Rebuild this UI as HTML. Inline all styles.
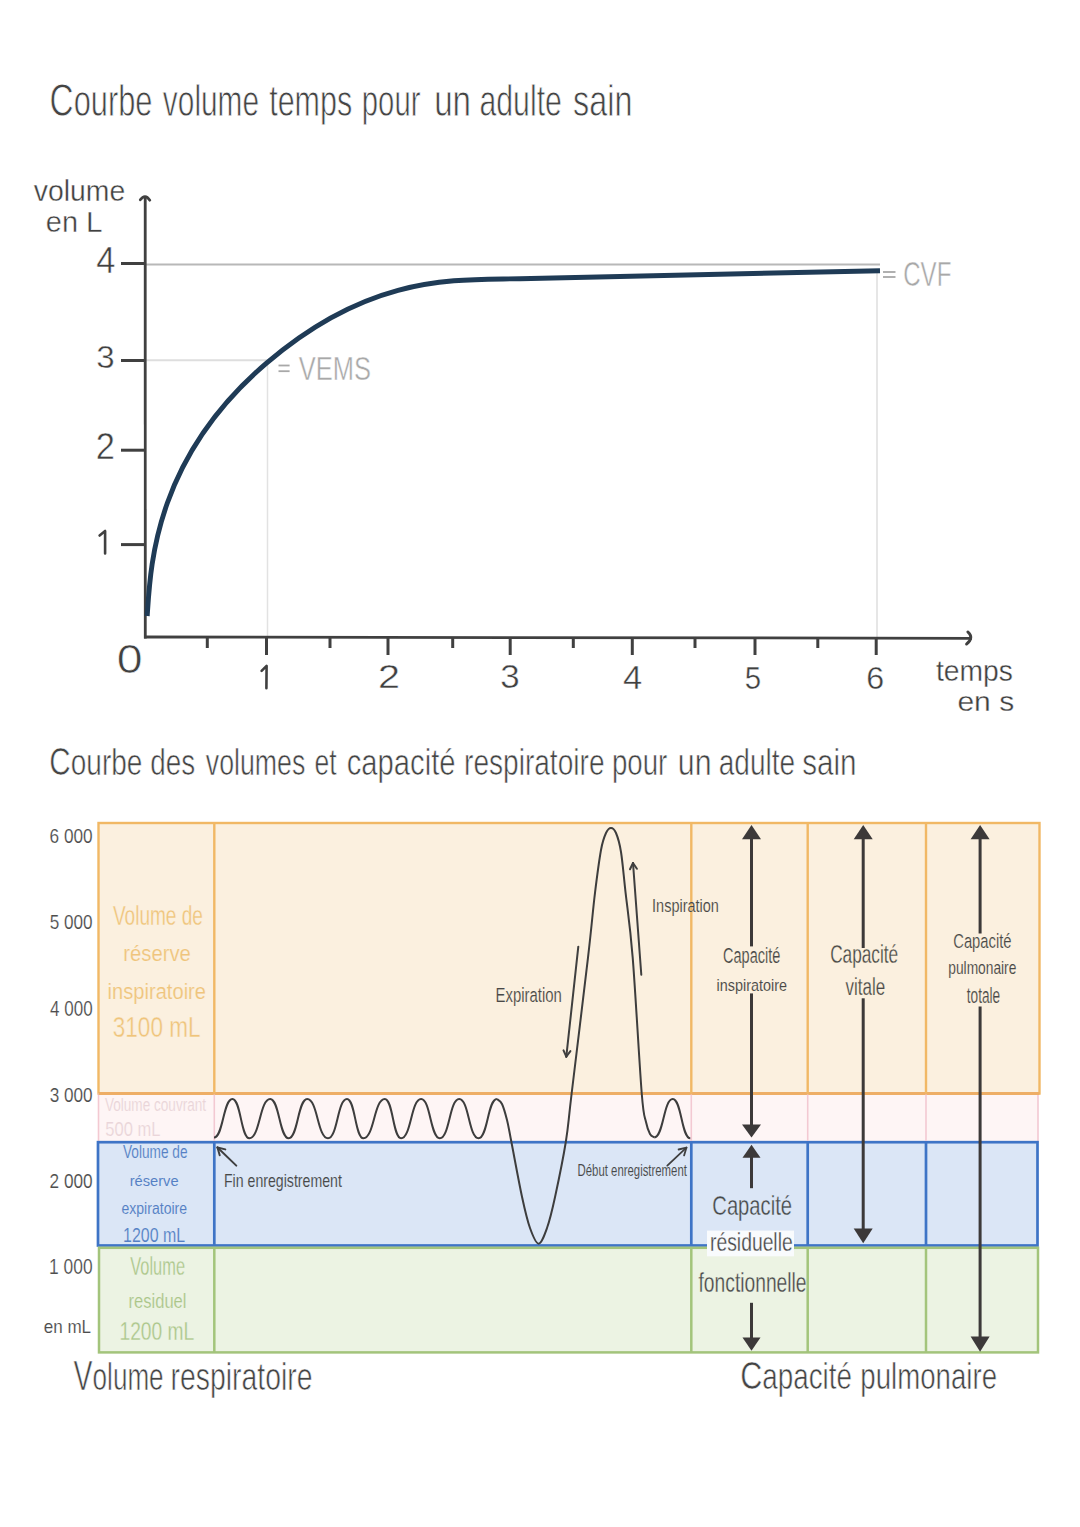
<!DOCTYPE html><html><head><meta charset="utf-8"><style>html,body{margin:0;padding:0;background:#fff;}svg{display:block;}text{font-family:"Liberation Sans",sans-serif;}</style></head><body>
<svg width="1080" height="1527" viewBox="0 0 1080 1527">
<rect x="0" y="0" width="1080" height="1527" fill="#ffffff"/>
<text x="49.60" y="115.50" font-size="43.58" fill="#444444" textLength="102.84" lengthAdjust="spacingAndGlyphs" stroke="#ffffff" stroke-width="0.79"><tspan font-size="47.14">C</tspan>ourbe</text>
<text x="162.86" y="115.50" font-size="43.58" fill="#444444" textLength="96.23" lengthAdjust="spacingAndGlyphs" stroke="#ffffff" stroke-width="0.79">volume</text>
<text x="269.18" y="115.50" font-size="43.58" fill="#444444" textLength="83.10" lengthAdjust="spacingAndGlyphs" stroke="#ffffff" stroke-width="0.79">temps</text>
<text x="361.82" y="115.50" font-size="43.58" fill="#444444" textLength="58.60" lengthAdjust="spacingAndGlyphs" stroke="#ffffff" stroke-width="0.79">pour</text>
<text x="434.17" y="115.50" font-size="43.58" fill="#444444" textLength="36.92" lengthAdjust="spacingAndGlyphs" stroke="#ffffff" stroke-width="0.79">un</text>
<text x="479.45" y="115.50" font-size="43.58" fill="#444444" textLength="82.46" lengthAdjust="spacingAndGlyphs" stroke="#ffffff" stroke-width="0.79">adulte</text>
<text x="573.11" y="115.50" font-size="43.58" fill="#444444" textLength="59.33" lengthAdjust="spacingAndGlyphs" stroke="#ffffff" stroke-width="0.79">sain</text>
<text x="33.86" y="200.50" font-size="29.25" fill="#404040" textLength="91.38" lengthAdjust="spacingAndGlyphs" stroke="#ffffff" stroke-width="0.36">volume</text>
<text x="45.79" y="232.00" font-size="28.68" fill="#404040" textLength="56.75" lengthAdjust="spacingAndGlyphs" stroke="#ffffff" stroke-width="0.42">en <tspan font-size="29.42">L</tspan></text>
<line x1="146.0" y1="264.5" x2="880.0" y2="264.5" stroke="#b8b8b8" stroke-width="2"/>
<line x1="146.0" y1="360.2" x2="268.0" y2="360.2" stroke="#dedede" stroke-width="2"/>
<line x1="267.5" y1="360.0" x2="267.5" y2="637.0" stroke="#e2e2e2" stroke-width="1.5"/>
<line x1="877.0" y1="272.0" x2="877.0" y2="637.0" stroke="#dedede" stroke-width="1.5"/>
<line x1="145.2" y1="196.0" x2="145.3" y2="638.5" stroke="#404040" stroke-width="2.8"/>
<line x1="144.0" y1="637.0" x2="972.0" y2="638.3" stroke="#404040" stroke-width="2.8"/>
<path d="M140.3,199.8 Q145,193.2 149.8,200.2" fill="none" stroke="#404040" stroke-width="2.8" stroke-linecap="round" stroke-linejoin="round"/>
<path d="M967.8,631.9 Q974.5,637.5 966.5,644.1" fill="none" stroke="#404040" stroke-width="2.8" stroke-linecap="round" stroke-linejoin="round"/>
<line x1="121.0" y1="263.5" x2="145.3" y2="263.5" stroke="#404040" stroke-width="3"/>
<line x1="121.0" y1="360.5" x2="145.3" y2="360.5" stroke="#404040" stroke-width="3"/>
<line x1="121.0" y1="450.2" x2="145.3" y2="450.2" stroke="#404040" stroke-width="3"/>
<line x1="121.0" y1="544.6" x2="145.3" y2="544.6" stroke="#404040" stroke-width="3"/>
<line x1="266.5" y1="637.0" x2="266.5" y2="655.0" stroke="#404040" stroke-width="3"/>
<line x1="388.0" y1="637.0" x2="388.0" y2="655.0" stroke="#404040" stroke-width="3"/>
<line x1="510.2" y1="637.0" x2="510.2" y2="655.0" stroke="#404040" stroke-width="3"/>
<line x1="632.3" y1="637.0" x2="632.3" y2="655.0" stroke="#404040" stroke-width="3"/>
<line x1="755.0" y1="637.0" x2="755.0" y2="655.0" stroke="#404040" stroke-width="3"/>
<line x1="876.2" y1="637.0" x2="876.2" y2="655.0" stroke="#404040" stroke-width="3"/>
<line x1="207.3" y1="637.0" x2="207.3" y2="648.0" stroke="#404040" stroke-width="3"/>
<line x1="330.0" y1="637.0" x2="330.0" y2="648.0" stroke="#404040" stroke-width="3"/>
<line x1="452.7" y1="637.0" x2="452.7" y2="648.0" stroke="#404040" stroke-width="3"/>
<line x1="573.3" y1="637.0" x2="573.3" y2="648.0" stroke="#404040" stroke-width="3"/>
<line x1="695.0" y1="637.0" x2="695.0" y2="648.0" stroke="#404040" stroke-width="3"/>
<line x1="817.8" y1="637.0" x2="817.8" y2="648.0" stroke="#404040" stroke-width="3"/>
<text x="96.31" y="272.80" font-size="36.23" fill="#404040" textLength="19.16" lengthAdjust="spacingAndGlyphs" stroke="#ffffff" stroke-width="0.51">4</text>
<text x="96.28" y="367.80" font-size="31.57" fill="#404040" textLength="18.38" lengthAdjust="spacingAndGlyphs" stroke="#ffffff" stroke-width="0.41">3</text>
<text x="95.87" y="459.00" font-size="36.00" fill="#404040" textLength="19.19" lengthAdjust="spacingAndGlyphs" stroke="#ffffff" stroke-width="0.51">2</text>
<path d="M99.6,535.5 L105.1,531 L105.1,553.5" fill="none" stroke="#404040" stroke-width="2.6" stroke-linecap="round" stroke-linejoin="round"/>
<text x="116.84" y="672.60" font-size="40.86" fill="#404040" textLength="25.84" lengthAdjust="spacingAndGlyphs" stroke="#ffffff" stroke-width="0.61">0</text>
<path d="M261.6,670.8 L266.6,665.8 L266.4,688.2" fill="none" stroke="#404040" stroke-width="2.6" stroke-linecap="round" stroke-linejoin="round"/>
<text x="378.02" y="688.30" font-size="33.29" fill="#404040" textLength="22.00" lengthAdjust="spacingAndGlyphs" stroke="#ffffff" stroke-width="0.45">2</text>
<text x="500.30" y="688.00" font-size="32.86" fill="#404040" textLength="19.44" lengthAdjust="spacingAndGlyphs" stroke="#ffffff" stroke-width="0.44">3</text>
<text x="622.91" y="689.20" font-size="33.91" fill="#404040" textLength="19.27" lengthAdjust="spacingAndGlyphs" stroke="#ffffff" stroke-width="0.46">4</text>
<text x="744.82" y="688.50" font-size="32.17" fill="#404040" textLength="16.39" lengthAdjust="spacingAndGlyphs" stroke="#ffffff" stroke-width="0.42">5</text>
<text x="866.39" y="688.50" font-size="32.14" fill="#404040" textLength="17.94" lengthAdjust="spacingAndGlyphs" stroke="#ffffff" stroke-width="0.42">6</text>
<text x="935.88" y="681.00" font-size="29.38" fill="#404040" textLength="76.96" lengthAdjust="spacingAndGlyphs" stroke="#ffffff" stroke-width="0.36">temps</text>
<text x="957.45" y="710.70" font-size="27.22" fill="#404040" textLength="56.71" lengthAdjust="spacingAndGlyphs" stroke="#ffffff" stroke-width="0.31">en  s</text>
<path d="M147.2,616.0 C150.5,566.0 154.3,459.1 266.5,363.1 C372.1,272.7 456.6,280.2 520.0,278.7 L880,270.7" fill="none" stroke="#1f3b56" stroke-width="4.9" stroke-linecap="butt"/>
<line x1="278.5" y1="365.5" x2="289.6" y2="365.5" stroke="#a8a8a8" stroke-width="1.8"/>
<line x1="278.5" y1="371.2" x2="289.6" y2="371.2" stroke="#a8a8a8" stroke-width="1.8"/>
<text x="298.87" y="380.00" font-size="33.57" fill="#a8a8a8" textLength="72.18" lengthAdjust="spacingAndGlyphs" stroke="#ffffff" stroke-width="0.45">VEMS</text>
<line x1="883.0" y1="272.0" x2="895.5" y2="272.0" stroke="#a8a8a8" stroke-width="1.8"/>
<line x1="883.0" y1="277.0" x2="895.5" y2="277.0" stroke="#a8a8a8" stroke-width="1.8"/>
<text x="903.20" y="286.00" font-size="35.00" fill="#a8a8a8" textLength="48.17" lengthAdjust="spacingAndGlyphs" stroke="#ffffff" stroke-width="0.48">CVF</text>
<text x="49.36" y="774.50" font-size="36.42" fill="#444444" textLength="92.96" lengthAdjust="spacingAndGlyphs" stroke="#ffffff" stroke-width="0.61"><tspan font-size="38.57">C</tspan>ourbe</text>
<text x="150.28" y="774.50" font-size="36.42" fill="#444444" textLength="44.88" lengthAdjust="spacingAndGlyphs" stroke="#ffffff" stroke-width="0.61">des</text>
<text x="205.75" y="774.50" font-size="36.42" fill="#444444" textLength="99.63" lengthAdjust="spacingAndGlyphs" stroke="#ffffff" stroke-width="0.61">volumes</text>
<text x="314.43" y="774.50" font-size="36.42" fill="#444444" textLength="22.14" lengthAdjust="spacingAndGlyphs" stroke="#ffffff" stroke-width="0.61">et</text>
<text x="346.72" y="774.50" font-size="36.42" fill="#444444" textLength="108.90" lengthAdjust="spacingAndGlyphs" stroke="#ffffff" stroke-width="0.61">capacité</text>
<text x="464.05" y="774.50" font-size="36.42" fill="#444444" textLength="140.45" lengthAdjust="spacingAndGlyphs" stroke="#ffffff" stroke-width="0.61">respiratoire</text>
<text x="611.88" y="774.50" font-size="36.42" fill="#444444" textLength="55.39" lengthAdjust="spacingAndGlyphs" stroke="#ffffff" stroke-width="0.61">pour</text>
<text x="677.80" y="774.50" font-size="36.42" fill="#444444" textLength="33.72" lengthAdjust="spacingAndGlyphs" stroke="#ffffff" stroke-width="0.61">un</text>
<text x="718.77" y="774.50" font-size="36.42" fill="#444444" textLength="76.38" lengthAdjust="spacingAndGlyphs" stroke="#ffffff" stroke-width="0.61">adulte</text>
<text x="802.19" y="774.50" font-size="36.42" fill="#444444" textLength="54.41" lengthAdjust="spacingAndGlyphs" stroke="#ffffff" stroke-width="0.61">sain</text>
<rect x="98.5" y="823" width="941" height="270.5" fill="#fbf0df" stroke="#f1b865" stroke-width="2.4"/>
<rect x="98.5" y="1094" width="939.5" height="48" fill="#fef5f5" stroke="#f3c9d2" stroke-width="1.6"/>
<rect x="98" y="1142.2" width="939.5" height="103.3" fill="#dbe6f6" stroke="#3e74c6" stroke-width="2.7"/>
<rect x="99" y="1247.8" width="939" height="104.6" fill="#ecf3e3" stroke="#a3c47b" stroke-width="2.5"/>
<line x1="98.5" y1="1093.5" x2="1039.5" y2="1093.5" stroke="#eeae66" stroke-width="2.8"/>
<line x1="214.3" y1="823.0" x2="214.3" y2="1093.5" stroke="#f1b865" stroke-width="2.4"/>
<line x1="214.3" y1="1094.5" x2="214.3" y2="1141.0" stroke="#f3c9d2" stroke-width="1.6"/>
<line x1="214.3" y1="1142.2" x2="214.3" y2="1245.5" stroke="#3e74c6" stroke-width="2.7"/>
<line x1="214.3" y1="1247.8" x2="214.3" y2="1352.4" stroke="#a3c47b" stroke-width="2.5"/>
<line x1="691.3" y1="823.0" x2="691.3" y2="1093.5" stroke="#f1b865" stroke-width="2.4"/>
<line x1="691.3" y1="1094.5" x2="691.3" y2="1141.0" stroke="#f3c9d2" stroke-width="1.6"/>
<line x1="691.3" y1="1142.2" x2="691.3" y2="1245.5" stroke="#3e74c6" stroke-width="2.7"/>
<line x1="691.3" y1="1247.8" x2="691.3" y2="1352.4" stroke="#a3c47b" stroke-width="2.5"/>
<line x1="807.7" y1="823.0" x2="807.7" y2="1093.5" stroke="#f1b865" stroke-width="2.4"/>
<line x1="807.7" y1="1094.5" x2="807.7" y2="1141.0" stroke="#f3c9d2" stroke-width="1.6"/>
<line x1="807.7" y1="1142.2" x2="807.7" y2="1245.5" stroke="#3e74c6" stroke-width="2.7"/>
<line x1="807.7" y1="1247.8" x2="807.7" y2="1352.4" stroke="#a3c47b" stroke-width="2.5"/>
<line x1="926.0" y1="823.0" x2="926.0" y2="1093.5" stroke="#f1b865" stroke-width="2.4"/>
<line x1="926.0" y1="1094.5" x2="926.0" y2="1141.0" stroke="#f3c9d2" stroke-width="1.6"/>
<line x1="926.0" y1="1142.2" x2="926.0" y2="1245.5" stroke="#3e74c6" stroke-width="2.7"/>
<line x1="926.0" y1="1247.8" x2="926.0" y2="1352.4" stroke="#a3c47b" stroke-width="2.5"/>
<text x="49.54" y="842.60" font-size="20.43" fill="#4d4d4d" textLength="43.11" lengthAdjust="spacingAndGlyphs" stroke="#ffffff" stroke-width="0.16">6 000</text>
<text x="49.71" y="929.20" font-size="20.29" fill="#4d4d4d" textLength="42.93" lengthAdjust="spacingAndGlyphs" stroke="#ffffff" stroke-width="0.16">5 000</text>
<text x="50.06" y="1015.80" font-size="21.71" fill="#4d4d4d" textLength="42.58" lengthAdjust="spacingAndGlyphs" stroke="#ffffff" stroke-width="0.19">4 000</text>
<text x="49.71" y="1101.60" font-size="20.43" fill="#4d4d4d" textLength="42.93" lengthAdjust="spacingAndGlyphs" stroke="#ffffff" stroke-width="0.16">3 000</text>
<text x="49.54" y="1187.70" font-size="19.71" fill="#4d4d4d" textLength="43.11" lengthAdjust="spacingAndGlyphs" stroke="#ffffff" stroke-width="0.15">2 000</text>
<text x="49.09" y="1274.40" font-size="21.71" fill="#4d4d4d" textLength="43.56" lengthAdjust="spacingAndGlyphs" stroke="#ffffff" stroke-width="0.19">1 000</text>
<text x="43.72" y="1333.00" font-size="18.84" fill="#4d4d4d" textLength="47.38" lengthAdjust="spacingAndGlyphs" stroke="#ffffff" stroke-width="0.13">en mL</text>
<text x="112.90" y="924.90" font-size="27.97" fill="#efc47c" textLength="90.07" lengthAdjust="spacingAndGlyphs" stroke="#fbf0df" stroke-width="0.33">Volume de</text>
<text x="123.28" y="960.80" font-size="22.64" fill="#efc47c" textLength="67.62" lengthAdjust="spacingAndGlyphs" stroke="#fbf0df" stroke-width="0.21">réserve</text>
<text x="107.59" y="999.30" font-size="22.08" fill="#efc47c" textLength="98.44" lengthAdjust="spacingAndGlyphs" stroke="#fbf0df" stroke-width="0.20">inspiratoire</text>
<text x="112.80" y="1036.70" font-size="30.29" fill="#efc47c" textLength="87.72" lengthAdjust="spacingAndGlyphs" stroke="#fbf0df" stroke-width="0.38">3100 mL</text>
<text x="104.93" y="1111.40" font-size="18.41" fill="#ead5d9" textLength="101.19" lengthAdjust="spacingAndGlyphs" stroke="#fef5f5" stroke-width="0.12">Volume couvrant</text>
<text x="105.34" y="1135.50" font-size="21.01" fill="#ead5d9" textLength="55.17" lengthAdjust="spacingAndGlyphs" stroke="#fef5f5" stroke-width="0.18">500 mL</text>
<text x="123.03" y="1157.90" font-size="18.70" fill="#557fc4" textLength="64.49" lengthAdjust="spacingAndGlyphs" stroke="#dbe6f6" stroke-width="0.13">Volume de</text>
<text x="129.64" y="1185.70" font-size="15.28" fill="#557fc4" textLength="49.01" lengthAdjust="spacingAndGlyphs" stroke="#dbe6f6" stroke-width="0.05">réserve</text>
<text x="121.44" y="1214.20" font-size="16.04" fill="#557fc4" textLength="65.68" lengthAdjust="spacingAndGlyphs" stroke="#dbe6f6" stroke-width="0.07">expiratoire</text>
<text x="123.11" y="1241.60" font-size="20.29" fill="#557fc4" textLength="62.00" lengthAdjust="spacingAndGlyphs" stroke="#dbe6f6" stroke-width="0.16">1200 mL</text>
<text x="130.32" y="1275.20" font-size="25.65" fill="#abc68a" textLength="54.73" lengthAdjust="spacingAndGlyphs" stroke="#ecf3e3" stroke-width="0.28">Volume</text>
<text x="128.52" y="1307.50" font-size="20.94" fill="#abc68a" textLength="57.99" lengthAdjust="spacingAndGlyphs" stroke="#ecf3e3" stroke-width="0.17">residuel</text>
<text x="119.46" y="1339.70" font-size="26.67" fill="#abc68a" textLength="74.85" lengthAdjust="spacingAndGlyphs" stroke="#ecf3e3" stroke-width="0.30">1200 mL</text>
<text x="223.97" y="1187.10" font-size="18.12" fill="#484848" textLength="117.93" lengthAdjust="spacingAndGlyphs" stroke="#dbe6f6" stroke-width="0.11">Fin enregistrement</text>
<text x="577.59" y="1176.20" font-size="16.81" fill="#484848" textLength="109.28" lengthAdjust="spacingAndGlyphs" stroke="#dbe6f6" stroke-width="0.08">Début enregistrement</text>
<text x="495.51" y="1001.70" font-size="20.58" fill="#484848" textLength="66.29" lengthAdjust="spacingAndGlyphs" stroke="#fbf0df" stroke-width="0.17">Expiration</text>
<text x="652.10" y="912.20" font-size="18.70" fill="#484848" textLength="66.83" lengthAdjust="spacingAndGlyphs" stroke="#fbf0df" stroke-width="0.13">Inspiration</text>
<path d="M214.0,1137.6 C223.2,1137.6 223.2,1099.0 232.4,1099.0 C240.9,1099.0 240.9,1138.3 249.4,1138.3 C259.8,1138.3 259.8,1099.0 270.2,1099.0 C279.4,1099.0 279.4,1138.3 288.7,1138.3 C297.9,1138.3 297.9,1099.0 307.2,1099.0 C317.6,1099.0 317.6,1138.3 328.0,1138.3 C337.5,1138.3 337.5,1099.0 347.0,1099.0 C355.2,1099.0 355.2,1138.3 363.4,1138.3 C374.1,1138.3 374.1,1099.0 384.8,1099.0 C393.0,1099.0 393.0,1138.3 401.1,1138.3 C411.1,1138.3 411.1,1099.0 421.1,1099.0 C430.5,1099.0 430.5,1138.3 439.8,1138.3 C449.5,1138.3 449.5,1099.0 459.2,1099.0 C468.9,1099.0 468.9,1138.3 478.5,1138.3 C487.7,1138.3 487.7,1099.0 496.9,1099.0" fill="none" stroke="#3d3d3d" stroke-width="2" stroke-linejoin="round"/>
<path d="M496.9,1099.0 C497.8,1099.8 500.3,1100.5 502.0,1104.0 C503.7,1107.5 505.4,1113.7 507.0,1120.0 C508.6,1126.3 508.9,1129.2 511.4,1142.0 C513.9,1154.8 518.9,1182.4 522.0,1196.7 C525.1,1211.0 527.2,1220.2 530.0,1228.0 C532.8,1235.8 535.8,1243.7 538.6,1243.7 C541.4,1243.7 544.2,1235.8 547.0,1228.0 C549.8,1220.2 552.0,1211.0 555.1,1196.7 C558.2,1182.4 563.0,1159.3 565.8,1142.0 C568.6,1124.7 568.0,1123.7 571.7,1093.0 C575.4,1062.3 584.1,991.0 588.0,957.6 C591.9,924.2 592.8,910.7 595.0,892.8 C597.2,874.9 599.2,860.0 601.0,850.0 C602.8,840.0 604.3,836.7 606.0,833.0 C607.7,829.3 609.3,828.0 611.0,828.0 C612.7,828.0 614.3,829.0 616.0,833.0 C617.7,837.0 619.4,842.0 621.0,852.0 C622.6,862.0 623.6,875.2 625.6,892.8 C627.6,910.4 630.0,924.2 632.7,957.6 C635.4,991.0 639.5,1065.6 641.7,1093.0 C643.9,1120.4 644.6,1115.2 646.0,1122.0 C647.4,1128.8 648.6,1131.4 650.0,1134.0 C651.4,1136.6 653.6,1136.8 654.3,1137.4" fill="none" stroke="#3d3d3d" stroke-width="2"/>
<path d="M654.3,1137.4 C663.5,1137.4 663.5,1099.0 672.8,1099.0 C681.5,1099.0 681.5,1138.3 690.3,1138.3" fill="none" stroke="#3d3d3d" stroke-width="2" stroke-linejoin="round"/>
<line x1="641.3" y1="974.7" x2="633.0" y2="863.0" stroke="#3f3f3f" stroke-width="2" stroke-linecap="round"/>
<line x1="633.0" y1="863.0" x2="636.9" y2="868.8" stroke="#3f3f3f" stroke-width="2" stroke-linecap="round"/>
<line x1="633.0" y1="863.0" x2="630.0" y2="869.3" stroke="#3f3f3f" stroke-width="2" stroke-linecap="round"/>
<line x1="578.3" y1="946.7" x2="566.3" y2="1056.7" stroke="#3f3f3f" stroke-width="2" stroke-linecap="round"/>
<line x1="566.3" y1="1056.7" x2="563.5" y2="1050.3" stroke="#3f3f3f" stroke-width="2" stroke-linecap="round"/>
<line x1="566.3" y1="1056.7" x2="570.4" y2="1051.1" stroke="#3f3f3f" stroke-width="2" stroke-linecap="round"/>
<line x1="236.3" y1="1165.6" x2="217.5" y2="1147.5" stroke="#3f3f3f" stroke-width="2" stroke-linecap="round"/>
<line x1="217.5" y1="1147.5" x2="225.3" y2="1149.4" stroke="#3f3f3f" stroke-width="2" stroke-linecap="round"/>
<line x1="217.5" y1="1147.5" x2="219.7" y2="1155.2" stroke="#3f3f3f" stroke-width="2" stroke-linecap="round"/>
<line x1="667.3" y1="1165.6" x2="686.4" y2="1147.7" stroke="#3f3f3f" stroke-width="1.8" stroke-linecap="round"/>
<line x1="686.4" y1="1147.7" x2="684.1" y2="1155.4" stroke="#3f3f3f" stroke-width="1.8" stroke-linecap="round"/>
<line x1="686.4" y1="1147.7" x2="678.6" y2="1149.5" stroke="#3f3f3f" stroke-width="1.8" stroke-linecap="round"/>
<path d="M742.0,839.3 L751.5,825.0 L761.0,839.3 Z" fill="#3c3939"/>
<line x1="751.5" y1="838.0" x2="751.5" y2="946.4" stroke="#3c3939" stroke-width="3"/>
<line x1="751.5" y1="993.4" x2="751.5" y2="1125.4" stroke="#3c3939" stroke-width="3"/>
<path d="M742.0,1124.4 L751.5,1137.4 L761.0,1124.4 Z" fill="#3c3939"/>
<path d="M853.7,839.3 L863.2,825.0 L872.7,839.3 Z" fill="#3c3939"/>
<line x1="863.2" y1="838.0" x2="863.2" y2="948.0" stroke="#3c3939" stroke-width="3"/>
<line x1="863.2" y1="998.3" x2="863.2" y2="1229.5" stroke="#3c3939" stroke-width="3"/>
<path d="M853.7,1228.5 L863.2,1243.3 L872.7,1228.5 Z" fill="#3c3939"/>
<path d="M970.6,839.3 L980.1,825.0 L989.6,839.3 Z" fill="#3c3939"/>
<line x1="980.1" y1="838.0" x2="980.1" y2="933.5" stroke="#3c3939" stroke-width="3"/>
<line x1="980.1" y1="1006.4" x2="980.1" y2="1337.6" stroke="#3c3939" stroke-width="3"/>
<path d="M970.6,1336.6 L980.1,1351.7 L989.6,1336.6 Z" fill="#3c3939"/>
<path d="M742.5,1157.8 L751.5,1144.8 L760.5,1157.8 Z" fill="#3c3939"/>
<line x1="751.5" y1="1157.0" x2="751.5" y2="1188.2" stroke="#3c3939" stroke-width="3"/>
<line x1="751.5" y1="1302.8" x2="751.5" y2="1338.0" stroke="#3c3939" stroke-width="3"/>
<path d="M742.5,1337.5 L751.5,1350.7 L760.5,1337.5 Z" fill="#3c3939"/>
<text x="723.08" y="963.30" font-size="21.43" fill="#484848" textLength="57.20" lengthAdjust="spacingAndGlyphs" stroke="#fbf0df" stroke-width="0.19">Capacité</text>
<text x="716.56" y="990.80" font-size="17.17" fill="#484848" textLength="70.40" lengthAdjust="spacingAndGlyphs" stroke="#fbf0df" stroke-width="0.09">inspiratoire</text>
<text x="830.14" y="962.60" font-size="25.43" fill="#484848" textLength="68.07" lengthAdjust="spacingAndGlyphs" stroke="#fbf0df" stroke-width="0.27">Capacité</text>
<text x="845.41" y="995.00" font-size="24.55" fill="#484848" textLength="39.74" lengthAdjust="spacingAndGlyphs" stroke="#fbf0df" stroke-width="0.25">vitale</text>
<text x="953.26" y="948.00" font-size="20.71" fill="#484848" textLength="58.23" lengthAdjust="spacingAndGlyphs" stroke="#fbf0df" stroke-width="0.17">Capacité</text>
<text x="948.31" y="974.00" font-size="17.93" fill="#484848" textLength="68.05" lengthAdjust="spacingAndGlyphs" stroke="#fbf0df" stroke-width="0.11">pulmonaire</text>
<text x="966.80" y="1003.00" font-size="22.07" fill="#484848" textLength="33.34" lengthAdjust="spacingAndGlyphs" stroke="#fbf0df" stroke-width="0.20">totale</text>
<rect x="707" y="1230.6" width="87" height="25.7" fill="#f9fbfd"/>
<text x="712.29" y="1214.60" font-size="28.00" fill="#484848" textLength="79.76" lengthAdjust="spacingAndGlyphs" stroke="#dbe6f6" stroke-width="0.33">Capacité</text>
<text x="710.05" y="1251.40" font-size="25.93" fill="#484848" textLength="82.63" lengthAdjust="spacingAndGlyphs" stroke="#f9fbfd" stroke-width="0.28">résiduelle</text>
<text x="698.51" y="1292.40" font-size="27.86" fill="#484848" textLength="108.06" lengthAdjust="spacingAndGlyphs" stroke="#ecf3e3" stroke-width="0.33">fonctionnelle</text>
<text x="73.62" y="1389.70" font-size="38.68" fill="#444444" textLength="90.01" lengthAdjust="spacingAndGlyphs" stroke="#ffffff" stroke-width="0.67"><tspan font-size="42.17">V</tspan>olume</text>
<text x="170.59" y="1389.70" font-size="38.68" fill="#444444" textLength="141.88" lengthAdjust="spacingAndGlyphs" stroke="#ffffff" stroke-width="0.67">respiratoire</text>
<text x="740.16" y="1388.60" font-size="36.04" fill="#444444" textLength="111.75" lengthAdjust="spacingAndGlyphs" stroke="#ffffff" stroke-width="0.60"><tspan font-size="39.71">C</tspan>apacité</text>
<text x="860.36" y="1388.60" font-size="36.04" fill="#444444" textLength="136.64" lengthAdjust="spacingAndGlyphs" stroke="#ffffff" stroke-width="0.60">pulmonaire</text>
</svg></body></html>
